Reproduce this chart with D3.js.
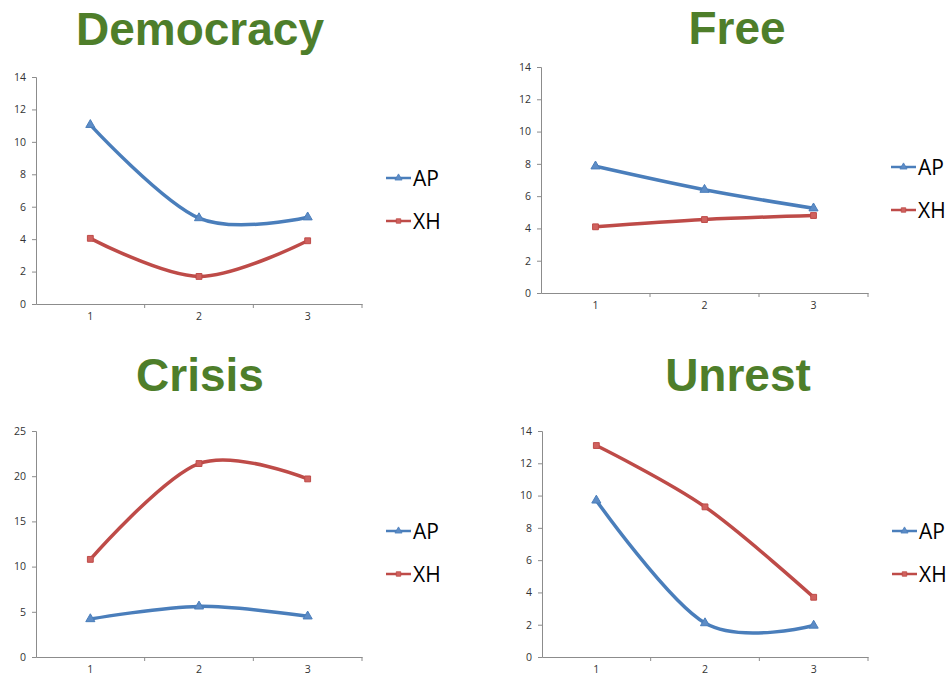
<!DOCTYPE html>
<html>
<head>
<meta charset="utf-8">
<script src="https://cdn.jsdelivr.net/npm/d3@7"></script>
<style>
body { margin: 0; background: #fff; }
svg { display: block; }
</style>
</head>
<body>
<div id="chart"></div>
<script>
// data
var categories = ["1", "2", "3"];
var seriesNames = ["AP", "XH"];
var panelTitles = ["Democracy", "Free", "Crisis", "Unrest"];
var yMaxes = [14, 14, 25, 14];
var yTickSteps = [2, 2, 5, 2];

var democracyAP = [11.05, 5.3, 5.35];
var democracyXH = [4.05, 1.7, 3.9];
var freeAP = [7.85, 6.4, 5.25];
var freeXH = [4.1, 4.55, 4.8];
var crisisAP = [4.2, 5.6, 4.5];
var crisisXH = [10.8, 21.4, 19.7];
var unrestAP = [9.7, 2.1, 1.95];
var unrestXH = [13.1, 9.3, 3.7];

var panelData = [
    [democracyAP, democracyXH],
    [freeAP, freeXH],
    [crisisAP, crisisXH],
    [unrestAP, unrestXH]
];

// plot boxes for the four panels
var boxes = [
    {left: 36, right: 362, top: 77, bottom: 304, titleX: 200, titleY: 45},
    {left: 541, right: 868, top: 67, bottom: 293, titleX: 737, titleY: 44},
    {left: 36, right: 362, top: 431, bottom: 657, titleX: 200, titleY: 391},
    {left: 542, right: 868, top: 431, bottom: 657, titleX: 738, titleY: 391}
];

var lineColors = ["#4a7ebb", "#be4b48"];
var markerFill = ["#5d8cc6", "#d0625f"];

var svg = d3.select("#chart")
    .append("svg")
    .attr("width", 952)
    .attr("height", 680);

panelData.forEach(function(series, p) {
    var b = boxes[p];
    var g = svg.append("g");

    // title
    g.append("text")
        .attr("x", b.titleX)
        .attr("y", b.titleY)
        .attr("text-anchor", "middle")
        .style("font-family", "'Liberation Sans', Arial, sans-serif")
        .style("font-weight", "bold")
        .style("font-size", "46px")
        .style("fill", "#4e7e2a")
        .text(panelTitles[p]);

    var x = d3.scaleBand().domain(categories).range([b.left, b.right]);
    var y = d3.scaleLinear().domain([0, yMaxes[p]]).range([b.bottom, b.top]);

    // y axis
    var yAxis = d3.axisLeft(y)
        .tickValues(d3.range(0, yMaxes[p] + 0.001, yTickSteps[p]))
        .tickSize(4)
        .tickPadding(6);
    var ya = g.append("g")
        .attr("transform", "translate(" + b.left + ",0)")
        .call(yAxis);
    ya.select(".domain").attr("stroke", "#8c8c8c");
    ya.selectAll(".tick line").attr("stroke", "#8c8c8c");
    ya.selectAll(".tick text")
        .style("font-family", "'Open Sans', 'DejaVu Sans', sans-serif")
        .style("font-size", "10.5px")
        .style("fill", "#333");

    // x axis: labels centred in bands, ticks between categories
    var xAxis = d3.axisBottom(x).tickSize(0).tickPadding(9);
    var xa = g.append("g")
        .attr("transform", "translate(0," + b.bottom + ")")
        .call(xAxis);
    xa.select(".domain").attr("stroke", "#8c8c8c");
    xa.selectAll(".tick text")
        .style("font-family", "'Open Sans', 'DejaVu Sans', sans-serif")
        .style("font-size", "10.5px")
        .style("fill", "#333");
    xa.selectAll(".divider")
        .data(categories.slice(1).concat(["end"]))
        .enter().append("line")
        .attr("class", "divider")
        .attr("x1", function(d) { return d === "end" ? b.right : x(d); })
        .attr("x2", function(d) { return d === "end" ? b.right : x(d); })
        .attr("y1", 0)
        .attr("y2", 4)
        .attr("stroke", "#8c8c8c");

    var line = d3.line()
        .curve(d3.curveCardinal.tension(0))
        .x(function(d, i) { return x(categories[i]) + x.bandwidth() / 2; })
        .y(function(d) { return y(d); });

    series.forEach(function(vals, s) {
        g.append("path")
            .datum(vals)
            .attr("d", line)
            .attr("fill", "none")
            .attr("stroke", lineColors[s])
            .attr("stroke-width", 3.5)
            .attr("stroke-linecap", "round");

        var sym = d3.symbol().type(s === 0 ? d3.symbolTriangle : d3.symbolSquare).size(s === 0 ? 36 : 34);
        g.selectAll(".m" + s)
            .data(vals)
            .enter().append("path")
            .attr("class", "m" + s)
            .attr("transform", function(d, i) {
                return "translate(" + (x(categories[i]) + x.bandwidth() / 2) + "," + y(d) + ")";
            })
            .attr("d", sym)
            .attr("fill", markerFill[s])
            .attr("stroke", lineColors[s])
            .attr("stroke-width", 1);
    });

    // legend
    var legendTop = b.top + (p === 0 ? 101 : 100);
    var lg = g.selectAll(".legend")
        .data(seriesNames)
        .enter().append("g")
        .attr("class", "legend")
        .attr("transform", function(d, i) {
            return "translate(" + (b.left + 350) + "," + (legendTop + i * 43) + ")";
        });
    lg.append("line")
        .attr("x1", 0)
        .attr("x2", 25)
        .attr("stroke", function(d, i) { return lineColors[i]; })
        .attr("stroke-width", 2.5);
    lg.append("path")
        .attr("transform", "translate(12.5,0)")
        .attr("d", function(d, i) {
            return d3.symbol().type(i === 0 ? d3.symbolTriangle : d3.symbolSquare).size(i === 0 ? 22 : 20)();
        })
        .attr("fill", function(d, i) { return markerFill[i]; })
        .attr("stroke", function(d, i) { return lineColors[i]; })
        .attr("stroke-width", 0.8);
    lg.append("text")
        .attr("x", 27)
        .attr("y", 0)
        .attr("dy", "0.36em")
        .style("font-family", "'Open Sans', sans-serif")
        .style("font-size", "21px")
        .style("fill", "#000")
        .text(function(d) { return d; });
});
</script>
</body>
</html>
